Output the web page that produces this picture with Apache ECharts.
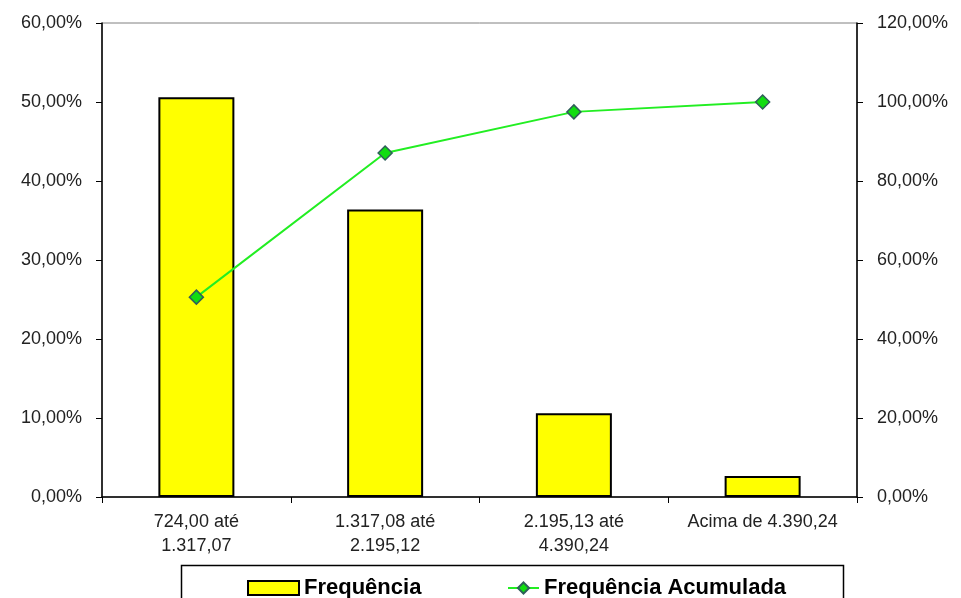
<!DOCTYPE html>
<html><head><meta charset="utf-8">
<script src="https://cdn.jsdelivr.net/npm/echarts@6/dist/echarts.min.js"></script>
<style>html,body{margin:0;padding:0;background:#fff}#c{width:961px;height:598px}</style>
</head><body><div id="c"></div>
<script>
const categories = ['724,00 até\n1.317,07', '1.317,08 até\n2.195,12', '2.195,13 até\n4.390,24', 'Acima de 4.390,24'];
const frequencia = [50.6, 36.4, 10.6, 2.65];
const acumulada = [50.6, 87.1, 97.5, 100.0];
const leftTicks = [0, 10, 20, 30, 40, 50, 60];
const rightTicks = [0, 20, 40, 60, 80, 100, 120];

const fmt = v => v.toFixed(2).replace('.', ',') + '%';
const font = 'Liberation Sans, Arial, sans-serif';
const chart = echarts.init(document.getElementById('c'), null, {renderer: 'canvas'});
chart.setOption({
  animation: false,
  backgroundColor: '#fff',
  grid: {left: 102, right: 104, top: 23, bottom: 101, show: true, borderColor: '#808080', borderWidth: 1},
  xAxis: {
    type: 'category', data: categories, boundaryGap: true,
    axisLine: {lineStyle: {color: '#000', width: 1.5}},
    axisTick: {show: true, length: 6, lineStyle: {color: '#000'}},
    axisLabel: {color: '#222', fontSize: 18, fontFamily: font, margin: 13, lineHeight: 24, interval: 0}
  },
  yAxis: [{
    type: 'value', min: leftTicks[0], max: leftTicks[leftTicks.length - 1], interval: 10,
    axisLine: {show: true, lineStyle: {color: '#000', width: 1.5}},
    axisTick: {show: true, length: 6, lineStyle: {color: '#000'}},
    splitLine: {show: false},
    axisLabel: {color: '#222', fontSize: 18, fontFamily: font, margin: 20, formatter: fmt}
  }, {
    type: 'value', min: rightTicks[0], max: rightTicks[rightTicks.length - 1], interval: 20, position: 'right',
    axisLine: {show: true, lineStyle: {color: '#000', width: 1.5}},
    axisTick: {show: true, length: 6, lineStyle: {color: '#000'}},
    splitLine: {show: false},
    axisLabel: {color: '#222', fontSize: 18, fontFamily: font, margin: 20, formatter: fmt}
  }],
  legend: [{
    data: [{name: 'Frequência', icon: 'rect'}], left: 242, top: 572, itemWidth: 51, itemHeight: 14,
    textStyle: {fontSize: 22, fontWeight: 'bold', color: '#000', fontFamily: font}
  }, {
    data: ['Frequência Acumulada'], left: 502, top: 572, itemWidth: 31, itemHeight: 14,
    textStyle: {fontSize: 22, fontWeight: 'bold', color: '#000', fontFamily: font}
  }],
  graphic: [{
    type: 'rect', shape: {x: 181.5, y: 565.5, width: 662, height: 60},
    style: {fill: 'none', stroke: '#000', lineWidth: 1.5}, z: 10
  }],
  series: [{
    name: 'Frequência', type: 'bar', data: frequencia, barWidth: 76, yAxisIndex: 0,
    itemStyle: {color: '#ffff00', borderColor: '#000', borderWidth: 2}
  }, {
    name: 'Frequência Acumulada', type: 'line', data: acumulada, yAxisIndex: 1,
    lineStyle: {color: '#22ee22', width: 2},
    symbol: 'diamond', symbolSize: 14,
    itemStyle: {color: '#11dd11', borderColor: '#2f5f5a', borderWidth: 1.5}
  }]
});
</script></body></html>
